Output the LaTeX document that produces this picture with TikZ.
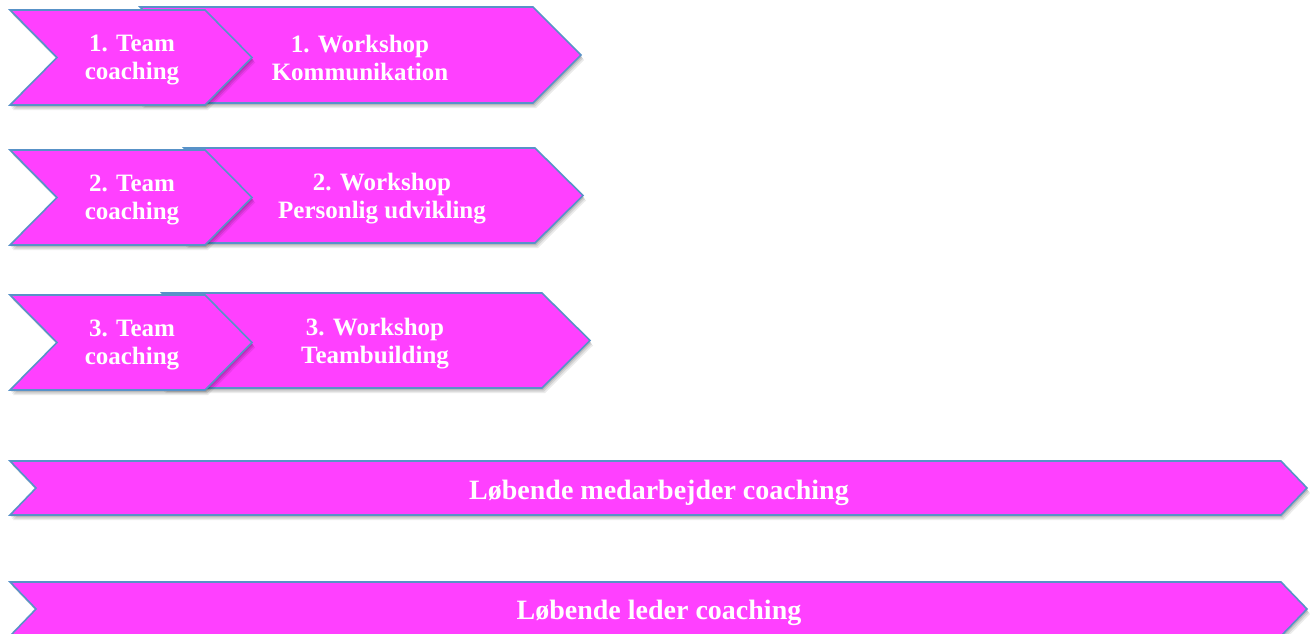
\documentclass[tikz,border=0pt]{standalone}
\usepackage{fontspec}
\setmainfont{Liberation Serif}
\usetikzlibrary{shadows}
\definecolor{mag}{RGB}{255,64,255}
\definecolor{edge}{RGB}{88,146,200}
\tikzset{
  shp/.style={fill=mag, draw=edge, line width=1.6pt, line join=miter,
    general shadow={fill=black, opacity=.12, shadow xshift=1pt, shadow yshift=-2pt},
    general shadow={fill=black, opacity=.10, shadow xshift=2pt, shadow yshift=-3.5pt},
    general shadow={fill=black, opacity=.08, shadow xshift=3pt, shadow yshift=-5pt}},
  lbl/.style={text=white, font=\bfseries\fontsize{25}{28}\selectfont, align=center, inner sep=0pt},
  barlbl/.style={text=white, font=\bfseries\fontsize{28}{32}\selectfont, align=center, inner sep=0pt}
}
% chevron: xl, xr, ytop, ybot, depth
\newcommand{\chevshape}[5]{%
  \path[shp] (#1,#3) -- ({#2-#5},#3) -- (#2,{(#3+#4)/2}) -- ({#2-#5},#4) -- (#1,#4) -- ({#1+#5},{(#3+#4)/2}) -- cycle;}
\begin{document}
\begin{tikzpicture}[x=1pt,y=-1pt]
\useasboundingbox (0,0) rectangle (1314,634);
% row 1
\chevshape{140}{581}{7}{103}{48}
\chevshape{10}{252}{10}{105}{47}
\node[lbl] (w1) at (360,58) {1. Workshop\\Kommunikation};
\node[lbl] (t1) at (132,60) {1. Team\\coaching};
% row 2
\chevshape{184}{583}{148}{243}{48}
\chevshape{10}{252}{150}{245}{47}
\node[lbl] (w2) at (382,199) {2. Workshop\\Personlig udvikling};
\node[lbl] (t2) at (132,200) {2. Team\\coaching};
% row 3
\chevshape{162}{590}{293}{388}{48}
\chevshape{10}{252}{295}{390}{47}
\node[lbl] (w3) at (375,344) {3. Workshop\\Teambuilding};
\node[lbl] (t3) at (132,345) {3. Team\\coaching};
% bars
\chevshape{10}{1307}{461}{515}{26}
\node[barlbl] (b1) at (659,493) {Løbende medarbejder coaching};
\chevshape{10}{1307}{582}{636}{26}
\node[barlbl] (b2) at (659,613) {Løbende leder coaching};
\end{tikzpicture}
\end{document}
